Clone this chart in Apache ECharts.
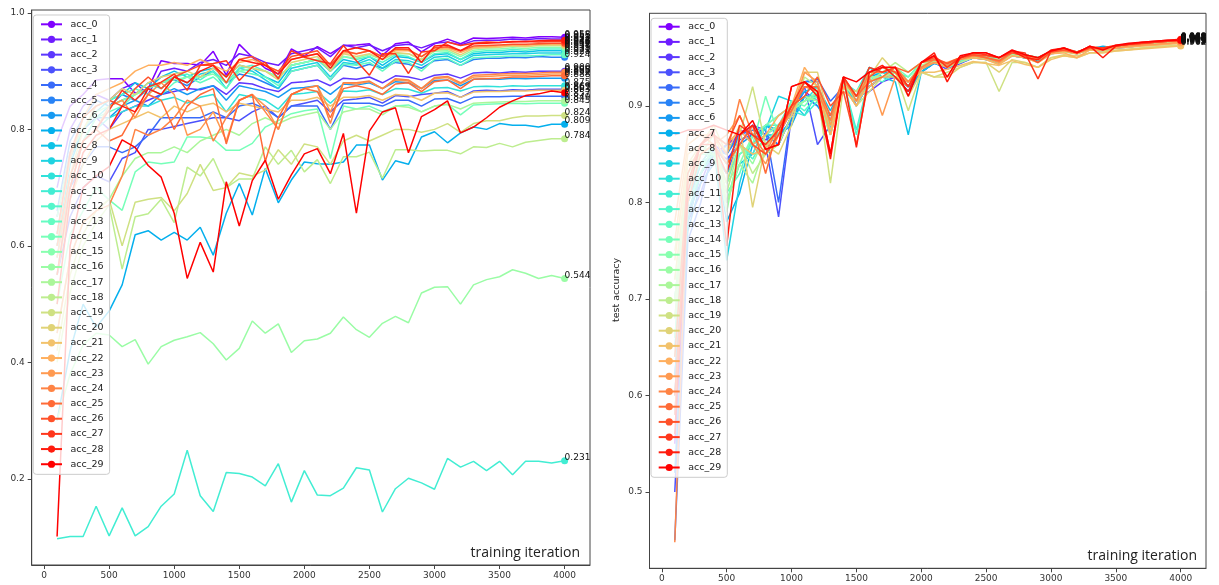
<!DOCTYPE html>
<html><head><meta charset="utf-8">
<script src="https://cdn.jsdelivr.net/npm/echarts@6/dist/echarts.min.js"></script>
<style>html,body{margin:0;padding:0;background:#fff}#c{width:1219px;height:585px}</style>
</head><body><div id="c"></div>
<script>
// ---------- data ----------
const iterations = [100,200,300,400,500,600,700,800,900,1000,1100,1200,1300,1400,1500,1600,1700,1800,1900,2000,
  2100,2200,2300,2400,2500,2600,2700,2800,2900,3000,3100,3200,3300,3400,3500,3600,3700,3800,3900,4000];
const xTicks = [0,500,1000,1500,2000,2500,3000,3500,4000];
const yTicksLeft = [0.2,0.4,0.6,0.8,1.0];
const yTicksRight = [0.5,0.6,0.7,0.8,0.9];
const seriesNames = ['acc_0','acc_1','acc_2','acc_3','acc_4','acc_5','acc_6','acc_7','acc_8','acc_9',
  'acc_10','acc_11','acc_12','acc_13','acc_14','acc_15','acc_16','acc_17','acc_18','acc_19',
  'acc_20','acc_21','acc_22','acc_23','acc_24','acc_25','acc_26','acc_27','acc_28','acc_29'];
const xLabelText = 'training iteration';
const yLabelRight = 'test accuracy';

// left panel
const L_acc_0 = [0.78,0.84,0.86,0.885,0.887,0.887,0.862,0.87,0.918,0.913, 0.913,0.91,0.934,0.893,0.946,0.924,0.905,0.895,0.938,0.926, 0.942,0.93,0.944,0.945,0.947,0.927,0.947,0.95,0.933,0.947, 0.955,0.947,0.957,0.956,0.957,0.958,0.957,0.959,0.959,0.958];
const L_acc_1 = [0.70,0.80,0.84,0.86,0.85,0.87,0.88,0.86,0.90,0.905, 0.90,0.915,0.92,0.91,0.93,0.925,0.915,0.91,0.93,0.935, 0.94,0.925,0.945,0.94,0.945,0.935,0.944,0.946,0.94,0.948, 0.95,0.945,0.952,0.953,0.953,0.955,0.954,0.956,0.955,0.955];
const L_acc_2 = [0.65,0.76,0.80,0.82,0.80,0.83,0.84,0.85,0.86,0.865, 0.87,0.868,0.875,0.86,0.88,0.878,0.87,0.865,0.88,0.882, 0.885,0.875,0.888,0.886,0.89,0.88,0.892,0.89,0.885,0.893, 0.895,0.888,0.897,0.898,0.897,0.899,0.898,0.9,0.9,0.9];
const L_acc_3 = [0.55,0.65,0.70,0.72,0.71,0.75,0.76,0.80,0.80,0.805, 0.81,0.815,0.82,0.82,0.815,0.83,0.84,0.82,0.84,0.845, 0.85,0.83,0.85,0.852,0.855,0.845,0.858,0.856,0.86,0.862, 0.865,0.855,0.866,0.867,0.866,0.868,0.867,0.869,0.869,0.869];
const L_acc_4 = [0.60,0.70,0.74,0.77,0.77,0.76,0.77,0.79,0.82,0.82, 0.82,0.82,0.83,0.82,0.84,0.845,0.835,0.82,0.84,0.84, 0.84,0.80,0.845,0.845,0.845,0.84,0.85,0.85,0.84,0.852, 0.853,0.845,0.855,0.856,0.856,0.857,0.857,0.857,0.857,0.857];
const L_acc_5 = [0.66,0.78,0.82,0.85,0.84,0.86,0.85,0.87,0.88,0.885, 0.875,0.89,0.90,0.88,0.895,0.89,0.88,0.87,0.90,0.905, 0.91,0.885,0.91,0.905,0.912,0.905,0.915,0.912,0.905,0.918, 0.92,0.91,0.92,0.922,0.922,0.924,0.923,0.925,0.924,0.924];
const L_acc_6 = [0.62,0.75,0.80,0.82,0.82,0.84,0.85,0.84,0.86,0.87, 0.86,0.87,0.875,0.85,0.875,0.87,0.865,0.855,0.87,0.872, 0.875,0.86,0.878,0.876,0.88,0.87,0.882,0.88,0.87,0.884, 0.885,0.875,0.886,0.887,0.886,0.888,0.887,0.888,0.888,0.888];
const L_acc_7 = [0.30,0.42,0.50,0.46,0.488,0.533,0.619,0.626,0.61,0.623, 0.61,0.632,0.584,0.656,0.707,0.653,0.733,0.674,0.713,0.744, 0.741,0.74,0.744,0.773,0.773,0.713,0.746,0.74,0.787,0.796, 0.777,0.794,0.804,0.80,0.81,0.807,0.807,0.804,0.809,0.809];
const L_acc_8 = [0.60,0.74,0.80,0.83,0.85,0.86,0.88,0.87,0.89,0.90, 0.89,0.90,0.905,0.89,0.91,0.905,0.89,0.88,0.91,0.915, 0.92,0.90,0.92,0.915,0.925,0.91,0.925,0.923,0.915,0.928, 0.93,0.92,0.93,0.932,0.932,0.934,0.933,0.935,0.935,0.935];
const L_acc_9 = [0.58,0.72,0.78,0.82,0.84,0.85,0.86,0.88,0.87,0.89, 0.88,0.895,0.90,0.87,0.905,0.90,0.885,0.87,0.905,0.91, 0.915,0.89,0.915,0.912,0.92,0.905,0.92,0.918,0.91,0.924, 0.926,0.915,0.927,0.928,0.929,0.93,0.93,0.931,0.931,0.931];
const L_acc_10 = [0.55,0.70,0.78,0.80,0.82,0.83,0.84,0.84,0.85,0.855, 0.845,0.855,0.86,0.83,0.86,0.855,0.85,0.835,0.86,0.862, 0.865,0.845,0.866,0.865,0.868,0.86,0.87,0.869,0.862,0.871, 0.872,0.866,0.873,0.874,0.873,0.875,0.874,0.875,0.875,0.875];
const L_acc_11 = [0.097,0.101,0.101,0.153,0.102,0.15,0.102,0.118,0.153,0.174, 0.249,0.171,0.144,0.211,0.209,0.203,0.188,0.226,0.16,0.214, 0.172,0.171,0.184,0.219,0.215,0.143,0.183,0.201,0.193,0.182, 0.235,0.22,0.23,0.214,0.23,0.207,0.23,0.23,0.227,0.231];
const L_acc_12 = [0.62,0.75,0.82,0.84,0.85,0.86,0.87,0.86,0.88,0.89, 0.895,0.885,0.90,0.88,0.905,0.91,0.90,0.89,0.91,0.915, 0.92,0.90,0.925,0.92,0.925,0.915,0.928,0.925,0.915,0.93, 0.932,0.92,0.933,0.935,0.935,0.937,0.936,0.938,0.938,0.938];
const L_acc_13 = [0.60,0.72,0.78,0.82,0.83,0.84,0.86,0.87,0.86,0.88, 0.89,0.88,0.89,0.87,0.90,0.895,0.89,0.875,0.90,0.905, 0.91,0.885,0.912,0.91,0.915,0.90,0.917,0.915,0.90,0.92, 0.922,0.91,0.923,0.924,0.925,0.926,0.926,0.927,0.928,0.928];
const L_acc_14 = [0.50,0.62,0.66,0.70,0.679,0.661,0.727,0.744,0.741,0.744, 0.787,0.787,0.784,0.764,0.764,0.776,0.804,0.815,0.827,0.832, 0.835,0.75,0.84,0.835,0.84,0.83,0.84,0.842,0.83,0.84, 0.843,0.825,0.842,0.843,0.844,0.845,0.844,0.845,0.845,0.845];
const L_acc_15 = [0.65,0.76,0.80,0.83,0.84,0.85,0.86,0.87,0.88,0.885, 0.89,0.89,0.895,0.88,0.90,0.905,0.90,0.89,0.91,0.915, 0.92,0.905,0.925,0.922,0.928,0.92,0.93,0.93,0.92,0.934, 0.935,0.925,0.936,0.938,0.938,0.94,0.939,0.941,0.941,0.941];
const L_acc_16 = [0.30,0.38,0.43,0.45,0.447,0.427,0.439,0.397,0.427,0.438, 0.444,0.451,0.432,0.404,0.424,0.471,0.45,0.466,0.417,0.437, 0.44,0.45,0.478,0.456,0.443,0.467,0.479,0.468,0.519,0.529, 0.53,0.50,0.533,0.542,0.547,0.559,0.553,0.544,0.549,0.544];
const L_acc_17 = [0.45,0.58,0.64,0.66,0.68,0.72,0.75,0.76,0.76,0.77, 0.76,0.78,0.79,0.80,0.79,0.81,0.82,0.81,0.82,0.825, 0.83,0.80,0.83,0.835,0.835,0.825,0.84,0.838,0.83,0.84, 0.843,0.835,0.845,0.846,0.847,0.848,0.848,0.849,0.849,0.849];
const L_acc_18 = [0.40,0.52,0.60,0.64,0.67,0.56,0.65,0.655,0.68,0.64, 0.735,0.72,0.75,0.70,0.715,0.715,0.77,0.74,0.764,0.727, 0.748,0.707,0.753,0.753,0.761,0.716,0.765,0.765,0.763,0.764, 0.764,0.758,0.77,0.769,0.776,0.77,0.778,0.781,0.784,0.784];
const L_acc_19 = [0.42,0.55,0.62,0.66,0.68,0.60,0.675,0.68,0.683,0.66, 0.69,0.74,0.695,0.70,0.725,0.72,0.73,0.765,0.74,0.775, 0.77,0.74,0.78,0.79,0.78,0.79,0.80,0.80,0.795,0.80, 0.81,0.795,0.81,0.815,0.815,0.82,0.823,0.823,0.824,0.824];
const L_acc_20 = [0.60,0.72,0.80,0.84,0.85,0.87,0.86,0.88,0.89,0.895, 0.90,0.89,0.905,0.89,0.91,0.905,0.90,0.885,0.915,0.92, 0.925,0.90,0.93,0.925,0.93,0.92,0.932,0.93,0.92,0.936, 0.938,0.928,0.939,0.94,0.941,0.943,0.942,0.944,0.944,0.944];
const L_acc_21 = [0.55,0.68,0.74,0.78,0.80,0.81,0.82,0.83,0.82,0.84, 0.83,0.84,0.845,0.83,0.845,0.84,0.835,0.83,0.85,0.85, 0.855,0.84,0.855,0.855,0.858,0.85,0.86,0.858,0.85,0.862, 0.863,0.855,0.864,0.865,0.865,0.866,0.866,0.867,0.867,0.867];
const L_acc_22 = [0.62,0.75,0.82,0.86,0.87,0.88,0.90,0.91,0.91,0.915, 0.91,0.92,0.91,0.90,0.915,0.92,0.91,0.90,0.92,0.925, 0.93,0.91,0.932,0.93,0.935,0.925,0.935,0.935,0.925,0.938, 0.94,0.932,0.941,0.942,0.943,0.945,0.944,0.946,0.946,0.946];
const L_acc_23 = [0.58,0.70,0.78,0.80,0.84,0.85,0.82,0.86,0.88,0.86, 0.79,0.80,0.83,0.78,0.85,0.86,0.84,0.80,0.86,0.87, 0.875,0.83,0.88,0.878,0.882,0.87,0.885,0.883,0.87,0.887, 0.889,0.878,0.89,0.891,0.892,0.893,0.893,0.894,0.895,0.895];
const L_acc_24 = [0.45,0.58,0.64,0.66,0.67,0.72,0.80,0.79,0.80,0.82, 0.85,0.84,0.78,0.82,0.85,0.86,0.83,0.80,0.86,0.87, 0.875,0.81,0.88,0.88,0.883,0.87,0.887,0.885,0.87,0.889, 0.891,0.88,0.893,0.894,0.895,0.896,0.896,0.897,0.898,0.898];
const L_acc_25 = [0.60,0.72,0.78,0.80,0.78,0.79,0.83,0.86,0.85,0.80, 0.84,0.86,0.87,0.775,0.85,0.86,0.745,0.82,0.86,0.87, 0.865,0.82,0.87,0.875,0.87,0.86,0.878,0.88,0.865,0.882, 0.885,0.87,0.886,0.887,0.888,0.89,0.89,0.891,0.892,0.892];
const L_acc_26 = [0.62,0.76,0.82,0.84,0.85,0.84,0.87,0.89,0.87,0.89, 0.90,0.91,0.91,0.88,0.92,0.925,0.91,0.90,0.925,0.93, 0.935,0.91,0.935,0.93,0.935,0.925,0.938,0.937,0.925,0.94, 0.942,0.935,0.943,0.944,0.945,0.946,0.946,0.947,0.948,0.948];
const L_acc_27 = [0.55,0.70,0.78,0.80,0.833,0.867,0.85,0.873,0.881,0.895, 0.867,0.91,0.913,0.918,0.884,0.907,0.915,0.887,0.935,0.924, 0.918,0.913,0.944,0.918,0.893,0.93,0.93,0.896,0.933,0.935, 0.95,0.944,0.948,0.95,0.949,0.95,0.951,0.95,0.951,0.951];
const L_acc_28 = [0.50,0.68,0.76,0.79,0.80,0.84,0.83,0.87,0.86,0.89, 0.88,0.90,0.91,0.89,0.92,0.915,0.91,0.895,0.92,0.925, 0.93,0.905,0.935,0.94,0.935,0.92,0.94,0.94,0.915,0.943, 0.945,0.935,0.947,0.948,0.949,0.951,0.951,0.952,0.953,0.953];
const L_acc_29 = [0.101,0.60,0.70,0.72,0.736,0.782,0.769,0.738,0.718,0.656, 0.544,0.606,0.555,0.71,0.634,0.712,0.747,0.68,0.722,0.758, 0.767,0.724,0.793,0.656,0.797,0.83,0.837,0.76,0.822,0.834, 0.849,0.794,0.804,0.82,0.838,0.849,0.858,0.861,0.866,0.863];

// right panel
const R_acc_0 = [0.55,0.78,0.83,0.85,0.86,0.87,0.88,0.87,0.88,0.89, 0.91,0.90,0.89,0.92,0.91,0.92,0.93,0.93,0.925,0.935, 0.945,0.94,0.945,0.95,0.95,0.945,0.953,0.95,0.948,0.955, 0.957,0.955,0.958,0.958,0.96,0.962,0.963,0.965,0.966,0.967];
const R_acc_1 = [0.62,0.80,0.84,0.86,0.85,0.875,0.87,0.865,0.87,0.895, 0.915,0.905,0.885,0.925,0.90,0.925,0.93,0.935,0.92,0.94, 0.945,0.94,0.948,0.952,0.95,0.947,0.955,0.952,0.95,0.956, 0.958,0.956,0.96,0.959,0.961,0.963,0.964,0.966,0.967,0.968];
const R_acc_2 = [0.58,0.79,0.82,0.855,0.845,0.86,0.88,0.87,0.86,0.89, 0.91,0.91,0.875,0.92,0.91,0.915,0.925,0.93,0.92,0.935, 0.945,0.938,0.944,0.95,0.948,0.944,0.952,0.95,0.946,0.954, 0.956,0.955,0.958,0.957,0.96,0.961,0.963,0.964,0.965,0.966];
const R_acc_3 = [0.50,0.78,0.81,0.85,0.83,0.865,0.87,0.86,0.785,0.89, 0.92,0.86,0.88,0.925,0.905,0.92,0.93,0.93,0.915,0.935, 0.945,0.94,0.945,0.952,0.95,0.945,0.953,0.95,0.947,0.955, 0.957,0.954,0.959,0.958,0.96,0.962,0.963,0.964,0.966,0.966];
const R_acc_4 = [0.45,0.76,0.80,0.86,0.84,0.87,0.88,0.875,0.80,0.895, 0.925,0.928,0.905,0.92,0.91,0.93,0.94,0.935,0.92,0.94, 0.945,0.942,0.946,0.95,0.95,0.946,0.954,0.951,0.948,0.956, 0.958,0.955,0.959,0.958,0.961,0.962,0.964,0.965,0.966,0.967];
const R_acc_5 = [0.60,0.80,0.83,0.855,0.85,0.87,0.875,0.87,0.86,0.89, 0.925,0.925,0.87,0.93,0.90,0.925,0.935,0.935,0.92,0.94, 0.947,0.94,0.947,0.952,0.95,0.946,0.954,0.952,0.948,0.955, 0.958,0.955,0.959,0.959,0.961,0.963,0.964,0.965,0.966,0.967];
const R_acc_6 = [0.52,0.77,0.82,0.84,0.86,0.86,0.87,0.88,0.87,0.885, 0.91,0.90,0.88,0.92,0.91,0.92,0.93,0.93,0.915,0.935, 0.944,0.94,0.945,0.95,0.948,0.945,0.953,0.95,0.948,0.955, 0.956,0.955,0.958,0.958,0.96,0.961,0.963,0.964,0.965,0.966];
const R_acc_7 = [0.70,0.82,0.85,0.86,0.78,0.81,0.86,0.87,0.87,0.88, 0.91,0.91,0.89,0.92,0.915,0.93,0.935,0.93,0.92,0.935, 0.946,0.94,0.946,0.95,0.95,0.946,0.952,0.95,0.947,0.955, 0.957,0.955,0.959,0.962,0.96,0.962,0.963,0.965,0.966,0.967];
const R_acc_8 = [0.65,0.80,0.84,0.85,0.80,0.84,0.85,0.88,0.875,0.90, 0.915,0.92,0.895,0.925,0.91,0.93,0.93,0.925,0.87,0.935, 0.945,0.94,0.945,0.95,0.95,0.945,0.953,0.95,0.948,0.955, 0.958,0.955,0.959,0.958,0.961,0.962,0.963,0.965,0.966,0.967];
const R_acc_9 = [0.62,0.78,0.83,0.86,0.74,0.82,0.87,0.875,0.91,0.905, 0.89,0.915,0.875,0.92,0.905,0.94,0.93,0.935,0.925,0.94, 0.947,0.943,0.947,0.95,0.95,0.946,0.954,0.951,0.948,0.956, 0.958,0.956,0.96,0.96,0.961,0.963,0.964,0.965,0.966,0.967];
const R_acc_10 = [0.60,0.79,0.83,0.85,0.83,0.85,0.86,0.88,0.89,0.90, 0.905,0.92,0.88,0.925,0.915,0.94,0.935,0.93,0.92,0.94, 0.948,0.942,0.948,0.952,0.95,0.947,0.955,0.953,0.95,0.956, 0.958,0.956,0.96,0.96,0.962,0.963,0.964,0.966,0.967,0.968];
const R_acc_11 = [0.66,0.81,0.84,0.86,0.84,0.86,0.85,0.88,0.88,0.895, 0.89,0.905,0.88,0.925,0.875,0.93,0.93,0.935,0.92,0.94, 0.947,0.94,0.947,0.951,0.95,0.945,0.953,0.952,0.948,0.955, 0.958,0.955,0.96,0.959,0.961,0.962,0.964,0.965,0.966,0.967];
const R_acc_12 = [0.68,0.82,0.84,0.85,0.82,0.86,0.845,0.87,0.88,0.905, 0.895,0.91,0.88,0.925,0.87,0.93,0.925,0.935,0.93,0.945, 0.948,0.944,0.949,0.952,0.95,0.947,0.955,0.953,0.95,0.956, 0.959,0.956,0.96,0.96,0.962,0.963,0.964,0.966,0.967,0.968];
const R_acc_13 = [0.64,0.80,0.83,0.86,0.81,0.83,0.87,0.86,0.88,0.90, 0.91,0.905,0.88,0.92,0.90,0.925,0.93,0.935,0.925,0.94, 0.946,0.942,0.947,0.95,0.95,0.946,0.954,0.951,0.948,0.955, 0.958,0.955,0.96,0.959,0.961,0.962,0.963,0.965,0.966,0.967];
const R_acc_14 = [0.66,0.81,0.85,0.85,0.80,0.85,0.86,0.91,0.87,0.905, 0.90,0.915,0.885,0.925,0.91,0.93,0.93,0.94,0.93,0.945, 0.948,0.943,0.949,0.952,0.95,0.947,0.955,0.953,0.95,0.956, 0.958,0.956,0.96,0.96,0.962,0.963,0.964,0.966,0.967,0.968];
const R_acc_15 = [0.70,0.82,0.86,0.85,0.82,0.84,0.87,0.88,0.89,0.90, 0.905,0.91,0.87,0.92,0.915,0.935,0.935,0.94,0.925,0.945, 0.948,0.944,0.95,0.953,0.952,0.948,0.955,0.953,0.95,0.957, 0.959,0.956,0.96,0.96,0.962,0.963,0.965,0.966,0.967,0.968];
const R_acc_16 = [0.72,0.83,0.85,0.86,0.79,0.86,0.84,0.87,0.88,0.895, 0.905,0.915,0.88,0.925,0.905,0.93,0.93,0.935,0.925,0.94, 0.946,0.942,0.948,0.951,0.95,0.946,0.954,0.952,0.949,0.955, 0.958,0.955,0.96,0.959,0.961,0.962,0.964,0.965,0.966,0.967];
const R_acc_17 = [0.70,0.83,0.85,0.87,0.80,0.84,0.82,0.86,0.87,0.90, 0.91,0.905,0.87,0.92,0.91,0.925,0.93,0.94,0.925,0.942, 0.947,0.942,0.948,0.951,0.95,0.945,0.953,0.951,0.948,0.955, 0.957,0.955,0.959,0.959,0.961,0.962,0.963,0.965,0.966,0.966];
const R_acc_18 = [0.68,0.82,0.85,0.86,0.81,0.86,0.83,0.85,0.86,0.89, 0.93,0.92,0.88,0.925,0.91,0.925,0.935,0.945,0.935,0.945, 0.945,0.94,0.945,0.95,0.948,0.943,0.952,0.95,0.945,0.954, 0.956,0.954,0.958,0.957,0.96,0.961,0.962,0.963,0.964,0.965];
const R_acc_19 = [0.75,0.84,0.85,0.86,0.82,0.87,0.92,0.86,0.87,0.90, 0.925,0.915,0.82,0.92,0.90,0.915,0.93,0.935,0.895,0.935, 0.93,0.935,0.94,0.945,0.945,0.915,0.945,0.945,0.94,0.95, 0.952,0.95,0.955,0.955,0.957,0.958,0.96,0.961,0.962,0.963];
const R_acc_20 = [0.72,0.84,0.86,0.88,0.85,0.88,0.795,0.86,0.85,0.88, 0.935,0.935,0.88,0.92,0.915,0.93,0.95,0.935,0.91,0.935, 0.93,0.93,0.94,0.945,0.945,0.935,0.948,0.945,0.94,0.95, 0.953,0.952,0.955,0.956,0.958,0.959,0.96,0.961,0.962,0.963];
const R_acc_21 = [0.74,0.85,0.86,0.87,0.84,0.86,0.85,0.855,0.88,0.89, 0.925,0.91,0.875,0.915,0.905,0.92,0.93,0.93,0.925,0.935, 0.935,0.938,0.942,0.946,0.944,0.942,0.947,0.943,0.94,0.948, 0.952,0.95,0.955,0.955,0.957,0.958,0.959,0.96,0.961,0.962];
const R_acc_22 = [0.76,0.86,0.87,0.87,0.86,0.875,0.86,0.87,0.89,0.90, 0.94,0.92,0.87,0.92,0.90,0.93,0.94,0.935,0.925,0.94, 0.945,0.94,0.948,0.95,0.948,0.943,0.952,0.95,0.945,0.954, 0.955,0.95,0.958,0.958,0.96,0.961,0.962,0.963,0.964,0.965];
const R_acc_23 = [0.78,0.87,0.87,0.86,0.87,0.89,0.86,0.84,0.87,0.895, 0.935,0.925,0.88,0.925,0.91,0.93,0.89,0.93,0.92,0.938, 0.945,0.945,0.95,0.952,0.95,0.945,0.955,0.952,0.948,0.955, 0.957,0.954,0.959,0.958,0.96,0.962,0.963,0.964,0.965,0.966];
const R_acc_24 = [0.448,0.82,0.86,0.87,0.85,0.907,0.87,0.85,0.88,0.90, 0.92,0.915,0.885,0.93,0.905,0.935,0.935,0.94,0.925,0.94, 0.948,0.942,0.948,0.952,0.95,0.946,0.955,0.952,0.948,0.956, 0.958,0.955,0.96,0.96,0.962,0.963,0.964,0.966,0.967,0.967];
const R_acc_25 = [0.58,0.80,0.85,0.86,0.84,0.86,0.88,0.83,0.88,0.895, 0.92,0.92,0.89,0.93,0.91,0.925,0.93,0.94,0.935,0.945, 0.948,0.944,0.95,0.953,0.95,0.947,0.956,0.953,0.95,0.957, 0.959,0.956,0.961,0.96,0.962,0.964,0.965,0.966,0.967,0.968];
const R_acc_26 = [0.64,0.83,0.86,0.87,0.86,0.89,0.86,0.85,0.87,0.90, 0.91,0.93,0.90,0.915,0.86,0.93,0.94,0.935,0.92,0.945, 0.95,0.944,0.95,0.953,0.952,0.95,0.955,0.952,0.945,0.956, 0.958,0.955,0.96,0.96,0.962,0.964,0.965,0.966,0.967,0.968];
const R_acc_27 = [0.60,0.82,0.86,0.86,0.83,0.88,0.87,0.86,0.875,0.90, 0.925,0.915,0.85,0.93,0.91,0.94,0.935,0.94,0.92,0.945, 0.952,0.94,0.95,0.955,0.953,0.95,0.957,0.955,0.928,0.957, 0.96,0.956,0.961,0.96,0.963,0.964,0.965,0.966,0.967,0.968];
const R_acc_28 = [0.56,0.81,0.86,0.875,0.755,0.87,0.88,0.855,0.86,0.92, 0.925,0.91,0.845,0.93,0.857,0.935,0.942,0.93,0.915,0.945, 0.955,0.925,0.95,0.955,0.955,0.95,0.957,0.95,0.948,0.958, 0.96,0.955,0.962,0.95,0.962,0.964,0.966,0.967,0.968,0.969];
const R_acc_29 = [0.87,0.875,0.875,0.88,0.875,0.87,0.885,0.855,0.86,0.92, 0.925,0.915,0.85,0.93,0.925,0.935,0.94,0.94,0.91,0.945, 0.952,0.93,0.952,0.955,0.955,0.95,0.958,0.953,0.95,0.957, 0.96,0.955,0.962,0.958,0.963,0.965,0.966,0.967,0.968,0.968];

const leftValues = [L_acc_0,L_acc_1,L_acc_2,L_acc_3,L_acc_4,L_acc_5,L_acc_6,L_acc_7,L_acc_8,L_acc_9,
  L_acc_10,L_acc_11,L_acc_12,L_acc_13,L_acc_14,L_acc_15,L_acc_16,L_acc_17,L_acc_18,L_acc_19,
  L_acc_20,L_acc_21,L_acc_22,L_acc_23,L_acc_24,L_acc_25,L_acc_26,L_acc_27,L_acc_28,L_acc_29];
const rightValues = [R_acc_0,R_acc_1,R_acc_2,R_acc_3,R_acc_4,R_acc_5,R_acc_6,R_acc_7,R_acc_8,R_acc_9,
  R_acc_10,R_acc_11,R_acc_12,R_acc_13,R_acc_14,R_acc_15,R_acc_16,R_acc_17,R_acc_18,R_acc_19,
  R_acc_20,R_acc_21,R_acc_22,R_acc_23,R_acc_24,R_acc_25,R_acc_26,R_acc_27,R_acc_28,R_acc_29];

// ---------- styling ----------
function rainbow(t){ // matplotlib 'rainbow' colormap
  const r = Math.min(1, Math.abs(2*t - 0.5)), g = Math.sin(Math.PI*t), b = Math.cos(Math.PI*t/2);
  return 'rgb(' + Math.round(r*255) + ',' + Math.round(g*255) + ',' + Math.round(b*255) + ')';
}
const colors = seriesNames.map((n,i)=>rainbow(i/(seriesNames.length-1)));
const TXT = '"DejaVu Sans", sans-serif';

function buildSeries(values, gridIdx){
  return values.map((vals, i) => {
    const last = vals.length - 1;
    return {
      name: seriesNames[i], type: 'line', xAxisIndex: gridIdx, yAxisIndex: gridIdx,
      symbol: 'circle', symbolSize: 0, showAllSymbol: true, silent: true, animation: false,
      lineStyle: {width: 1.5, color: colors[i]}, itemStyle: {color: colors[i]},
      emphasis: {disabled: true},
      label: {show: false, position: 'right', distance: -3.5, offset: [0, -3],
        formatter: p => p.value[1].toFixed(3), fontFamily: TXT, fontSize: 9, color: '#111'},
      data: vals.map((v, k) => k === last
        ? {value: [iterations[k], v], symbolSize: 7, label: {show: true}}
        : [iterations[k], v])
    };
  });
}

function xAxisCfg(g){
  return {type:'value', gridIndex:g, min:-95, max:4195,
    axisLine:{show:true, onZero:false, lineStyle:{color:'#444', width:1}},
    splitLine:{show:false},
    axisTick:{show:true, customValues:xTicks, length:4, lineStyle:{color:'#444'}},
    axisLabel:{customValues:xTicks, formatter: v => String(v), fontFamily:TXT, fontSize:9, color:'#333', margin:6}};
}
function yAxisCfg(g, min, max, ticks){
  return {type:'value', gridIndex:g, min:min, max:max,
    axisLine:{show:true, onZero:false, lineStyle:{color:'#444', width:1}},
    splitLine:{show:false},
    axisTick:{show:true, customValues:ticks, length:4, lineStyle:{color:'#444'}},
    axisLabel:{customValues:ticks, formatter: v => v.toFixed(1), fontFamily:TXT, fontSize:9, color:'#333', margin:7}};
}
function legendCfg(left, top, pad, gap){
  return {orient:'vertical', left:left, top:top, padding:pad, itemGap:gap,
    itemWidth:21, itemHeight:9, selectedMode:false,
    backgroundColor:'rgba(255,255,255,0.8)', borderColor:'#cccccc', borderWidth:1, borderRadius:3,
    textStyle:{fontFamily:TXT, fontSize:9.5, color:'#222', lineHeight:12, padding:[0,0,0,3.5]},
    data: seriesNames};
}

const chart = echarts.init(document.getElementById('c'), null, {renderer:'canvas'});
chart.setOption({
  animation: false,
  backgroundColor: '#fff',
  grid: [
    {left:31.7, top:10, width:558.3, height:555, show:true, borderColor:'#444', borderWidth:1, outerBoundsMode:'none', containLabel:false},
    {left:649.5, top:13.3, width:556.5, height:555, show:true, borderColor:'#444', borderWidth:1, outerBoundsMode:'none', containLabel:false}
  ],
  xAxis: [xAxisCfg(0), xAxisCfg(1)],
  yAxis: [yAxisCfg(0, 0.052, 1.005, yTicksLeft), yAxisCfg(1, 0.421, 0.996, yTicksRight)],
  legend: [legendCfg(33.3, 15, [3.3,6,4.1,6.7], 3.17), legendCfg(651, 18.3, [2.4,6,3.8,6.7], 3.2)],
  graphic: [
    {type:'text', x:580, y:560, z:100, style:{text:xLabelText, fontFamily:'"Open Sans", sans-serif', fontSize:14, fill:'#222', textAlign:'right', textVerticalAlign:'bottom'}},
    {type:'text', x:1197, y:563, z:100, style:{text:xLabelText, fontFamily:'"Open Sans", sans-serif', fontSize:14, fill:'#222', textAlign:'right', textVerticalAlign:'bottom'}},
    {type:'text', x:617, y:290, rotation:Math.PI/2, z:100, style:{text:yLabelRight, fontFamily:TXT, fontSize:9.5, fill:'#222', textAlign:'center', textVerticalAlign:'middle'}}
  ],
  series: buildSeries(leftValues, 0).concat(buildSeries(rightValues, 1))
});
</script>
</body></html>
